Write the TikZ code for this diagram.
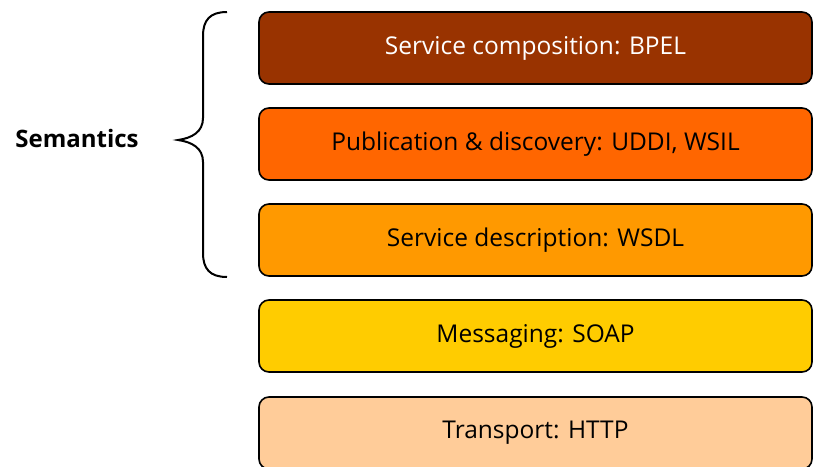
\documentclass[tikz,border=0pt]{standalone}
\usepackage{fontspec}
\setmainfont{Open Sans}
\begin{document}
\begin{tikzpicture}[x=1pt,y=-1pt,
  layer/.style={draw=black, line width=1.6pt, rounded corners=10pt,
    minimum width=553pt, minimum height=72pt, inner sep=0pt,
    font=\fontsize{24.5}{28}\selectfont},
  bracepath/.style={draw=black, line width=2pt}]
\clip (0,0) rectangle (813,466);
\useasboundingbox (0,0) rectangle (813,466);
\definecolor{cBrown}{HTML}{993300}
\definecolor{cOrange}{HTML}{FF6600}
\definecolor{cAmber}{HTML}{FF9900}
\definecolor{cYellow}{HTML}{FFCC00}
\definecolor{cPeach}{HTML}{FFCC99}
\node[layer, fill=cBrown, text=white] (bpel) at (535.5,48) {Service composition: BPEL};
\node[layer, fill=cOrange] (uddi) at (535.5,144) {Publication \& discovery: UDDI, WSIL};
\node[layer, fill=cAmber] (wsdl) at (535.5,240) {Service description: WSDL};
\node[layer, fill=cYellow] (soap) at (535.5,336) {Messaging: SOAP};
\node[layer, fill=cPeach] (http) at (535.5,433) {Transport: HTTP};
% curly brace spanning the upper three layers
\coordinate (btop) at (227,12);
\coordinate (btip) at (178,140);
\coordinate (bbot) at (227,277);
\draw[bracepath] (btop) .. controls (210,12) and (203,20) .. (203,36)
  -- (203,118) .. controls (203,132) and (192,138) .. (btip)
  .. controls (192,142) and (203,148) .. (203,162)
  -- (203,253) .. controls (203,269) and (210,277) .. (bbot);
\node[font=\fontsize{24}{28}\selectfont\bfseries, anchor=center] (sem) at (77,138) {Semantics};
\end{tikzpicture}
\end{document}
